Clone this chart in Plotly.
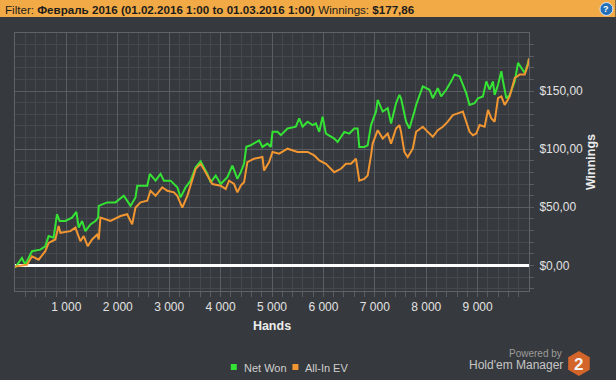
import plotly.graph_objects as go

# ---------------- data ----------------
hands_net = [0, 136, 200, 331, 493, 590, 655, 752, 818, 870, 980, 1110, 1195, 1240, 1306, 1370,
             1468, 1565, 1618, 1630, 1792, 1955, 2117, 2248, 2345, 2378, 2573, 2624, 2735, 2832,
             2897, 3027, 3158, 3222, 3320, 3417, 3515, 3612, 3743, 3807, 3905, 4002, 4132, 4230,
             4327, 4392, 4456, 4470, 4500, 4586, 4749, 4814, 4912, 4977, 5010, 5107, 5172, 5302,
             5464, 5529, 5595, 5692, 5790, 5854, 5919, 5984, 6049, 6211, 6276, 6406, 6503, 6601,
             6666, 6698, 6796, 6861, 6926, 7023, 7056, 7154, 7251, 7316, 7413, 7478, 7510, 7608,
             7673, 7770, 7803, 7933, 8062, 8128, 8225, 8290, 8388, 8485, 8550, 8648, 8713, 8778,
             8843, 8940, 9006, 9103, 9168, 9233, 9298, 9331, 9396, 9461, 9494, 9558, 9623, 9721,
             9786, 9851, 9916, 9981, 9999]
net_won = [-2, 6.4, 0.6, 12.2, 13.6, 16.5, 25.2, 23.8, 44, 38.2, 38.2, 41.1, 46, 32.5, 38.2, 29.5,
           35.3, 38.2, 41.1, 51.2, 54.2, 54.2, 59.9, 51.2, 58.5, 68.6, 68.6, 78.7, 72.9, 78.7,
           72.9, 72.9, 67.2, 58.5, 67.2, 72.9, 84.5, 89.5, 78.7, 71.5, 77.3, 70, 75.9, 85.9,
           74.4, 80.2, 87.4, 92, 102, 103.3, 107.6, 101.9, 104.8, 101.9, 114.9, 114.9, 112, 117.8,
           119.3, 126.5, 119.3, 123.6, 120.7, 122.1, 114.9, 128, 113.4, 109.1, 106.2, 114.9, 113.4, 117.8,
           117.8, 101.9, 101.9, 103.3, 120.7, 132.3, 142.4, 132.3, 135.2, 122.1, 139.5, 146.7, 143.8, 123.6,
           117.8, 132.3, 138, 154, 151.1, 143.8, 152.5, 145.3, 151.1, 158.3, 164.1, 162.7, 155.4, 148.2,
           138, 139.5, 143.8, 145.3, 158.3, 151.1, 158.3, 146.7, 155.4, 167, 158.3, 143.8, 146.7, 158.3,
           174.2, 169.9, 165.5, 174.2, 177.86]

hands_ev = [0, 233, 331, 461, 590, 655, 785, 850, 883, 1078, 1175, 1273, 1337, 1415, 1500, 1598,
            1630, 1663, 1858, 2053, 2183, 2280, 2345, 2443, 2573, 2637, 2735, 2865, 2963, 3092,
            3158, 3255, 3353, 3417, 3515, 3612, 3710, 3840, 4002, 4100, 4165, 4262, 4327, 4392,
            4456, 4521, 4651, 4814, 4846, 4944, 5010, 5140, 5302, 5497, 5692, 5822, 5919, 6049,
            6211, 6341, 6438, 6536, 6633, 6698, 6796, 6861, 6926, 6958, 7056, 7154, 7251, 7316,
            7413, 7478, 7510, 7575, 7640, 7738, 7803, 7933, 8030, 8128, 8225, 8323, 8420, 8518,
            8616, 8713, 8778, 8843, 8908, 8973, 9038, 9136, 9201, 9266, 9331, 9396, 9461, 9526,
            9623, 9721, 9818, 9916, 9981, 9999]
allin_ev = [-1, 0.6, 7.8, 4.9, 12.2, 19.4, 22.3, 33.9, 28.1, 29.5, 32.5, 20.8, 25.2, 16.5, 22.3, 26.6,
            22.3, 41.1, 38.2, 42.5, 44, 35.3, 49.8, 54.2, 55.6, 64.2, 59.9, 67.2, 64.2, 62.8,
            59.9, 49.8, 59.9, 68.6, 83, 87.4, 80.2, 70, 68.6, 65.7, 72.9, 70, 62.8, 68.6,
            71.5, 88.9, 91.8, 93.2, 81.6, 88.9, 97.6, 96.1, 100.4, 97.6, 97.6, 94.6, 90.3, 87.4,
            80.2, 83.1, 87.4, 87.4, 91.8, 72.9, 74.4, 77.3, 94.6, 104.8, 116.3, 109.1, 113.4, 104.8,
            117.8, 120.7, 114.9, 97.6, 93.2, 100.4, 114.9, 119.3, 114.9, 110.6, 116.3, 119.3, 123.6, 129.3,
            130.8, 132.3, 123.6, 114.9, 112, 113.4, 120.7, 119.3, 133.7, 126.5, 123.6, 143.8, 145.3, 138,
            145.3, 161.2, 164.1, 164.1, 172.8, 178]

series_names = ["Net Won", "All-In EV"]
filter_name = "Февраль 2016 (01.02.2016 1:00 to 01.03.2016 1:00)"
total_winnings = "$177,86"

# ---------------- layout helpers ----------------
W, H = 616, 380
PL, PR, PT, PB = 15, 529.5, 33, 291


def px(x):
    return (x - PL) / (PR - PL)


def py(y):
    return (PB - y) / (PB - PT)


GREEN = "#35e335"
ORANGE = "#f29632"
BG = "#36393d"

fig = go.Figure()
fig.add_trace(go.Scatter(x=hands_net, y=net_won, mode="lines", name=series_names[0],
                         line=dict(color=GREEN, width=2), showlegend=False))
fig.add_trace(go.Scatter(x=hands_ev, y=allin_ev, mode="lines", name=series_names[1],
                         line=dict(color=ORANGE, width=2), showlegend=False))

grid_minor = "#45494d"
grid_major = "#5a5e62"

fig.update_layout(
    width=W, height=H,
    margin=dict(l=PL, r=W - PR, t=PT, b=H - PB, pad=0, autoexpand=False),
    paper_bgcolor=BG, plot_bgcolor=BG,
    separators=", ",
    font=dict(family="Liberation Sans, Arial, sans-serif", size=12, color="#e2e2e2"),
    showlegend=False,
    xaxis=dict(
        range=[1, 9999], tickmode="linear", tick0=0, dtick=1000, tickformat=",d",
        automargin=False,
        showgrid=True, gridcolor=grid_major, gridwidth=1,
        ticks="outside", ticklen=5, tickcolor=grid_major,
        minor=dict(tickmode="linear", tick0=0, dtick=200, showgrid=True, gridcolor=grid_minor,
                   ticks="outside", ticklen=5, tickcolor=grid_major),
        showline=True, linecolor="#5f6367", linewidth=1, mirror=True, zeroline=False,
        tickfont=dict(size=12, color="#e2e2e2"),
        title=dict(text="<b>Hands</b>", font=dict(size=12.5, color="#ececec"), standoff=7),
    ),
    yaxis=dict(
        range=[-22, 199.9], side="right", tickmode="linear", tick0=0, dtick=50,
        tickformat=",.2f", tickprefix="$",
        automargin=False, ticklabelstandoff=3,
        showgrid=True, gridcolor=grid_major, gridwidth=1,
        ticks="outside", ticklen=4, tickcolor=grid_major,
        minor=dict(tickmode="linear", tick0=0, dtick=10, showgrid=True, gridcolor=grid_minor,
                   ticks="outside", ticklen=4, tickcolor=grid_major),
        showline=True, linecolor="#5f6367", linewidth=1, mirror=True,
        zeroline=True, zerolinecolor="#ffffff", zerolinewidth=2.5,
        tickfont=dict(size=12, color="#e2e2e2"),
        title=dict(text="<b>Winnings</b>", font=dict(size=12.5, color="#ececec"), standoff=4),
    ),
)

shapes = []
annotations = []

# header bar
shapes.append(dict(type="rect", xref="paper", yref="paper", x0=px(0), x1=px(W), y0=py(17), y1=py(0),
                   fillcolor="#f1aa45", line=dict(width=0), layer="above"))
annotations.append(dict(xref="paper", yref="paper", x=px(3), y=py(9), xanchor="left", yanchor="middle",
                        showarrow=False,
                        text=f"Filter: <b>{filter_name}</b> Winnings: <b>{total_winnings}</b>",
                        font=dict(family="Liberation Sans, Arial, sans-serif", size=11.6, color="#1c1c1c")))
# help icon
shapes.append(dict(type="circle", xref="paper", yref="paper", x0=px(600.5), x1=px(613.5), y0=py(15.5), y1=py(2.5),
                   fillcolor="#2470b8", line=dict(color="#dfe8f2", width=1), layer="above"))
annotations.append(dict(xref="paper", yref="paper", x=px(607), y=py(9), xanchor="center", yanchor="middle",
                        showarrow=False, text="<b>?</b>", font=dict(size=9, color="#ffffff")))

# legend
for cx, col in [(234, GREEN), (295.7, ORANGE)]:
    shapes.append(dict(type="rect", xref="paper", yref="paper", x0=px(cx - 3), x1=px(cx + 3),
                       y0=py(370), y1=py(364), fillcolor=col, line=dict(width=0)))
annotations.append(dict(xref="paper", yref="paper", x=px(242), y=py(367.5), xanchor="left", yanchor="middle",
                        showarrow=False, text=series_names[0], font=dict(size=11, color="#cfcfcf")))
annotations.append(dict(xref="paper", yref="paper", x=px(303.5), y=py(367.5), xanchor="left", yanchor="middle",
                        showarrow=False, text=series_names[1], font=dict(size=11, color="#cfcfcf")))

# powered by logo
annotations.append(dict(xref="paper", yref="paper", x=px(565), y=py(353), xanchor="right", yanchor="middle",
                        showarrow=False, text="Powered by", font=dict(size=10, color="#9c9c9c")))
annotations.append(dict(xref="paper", yref="paper", x=px(566), y=py(364.5), xanchor="right", yanchor="middle",
                        showarrow=False, text="Hold'em Manager", font=dict(size=12, color="#c6c6c6")))
hcx, hcy, hr, hw = 579.5, 363.5, 12.5, 10.8
verts = [(hcx, hcy - hr), (hcx + hw, hcy - hr / 2), (hcx + hw, hcy + hr / 2),
         (hcx, hcy + hr), (hcx - hw, hcy + hr / 2), (hcx - hw, hcy - hr / 2)]
path = "M " + " L ".join(f"{px(a):.5f},{py(b):.5f}" for a, b in verts) + " Z"
shapes.append(dict(type="path", xref="paper", yref="paper", path=path,
                   fillcolor="#d3652a", line=dict(width=0)))
annotations.append(dict(xref="paper", yref="paper", x=px(579.5), y=py(364), xanchor="center", yanchor="middle",
                        showarrow=False, text="<b>2</b>", font=dict(size=17, color="#f4f4f4")))

fig.update_layout(shapes=shapes, annotations=annotations)

fig.write_html(
    "out.html",
    config={"displayModeBar": False},
    post_script=("document.body.style.margin='0';document.body.style.padding='0';"
                 "document.body.style.overflow='hidden';"
                 "document.documentElement.style.overflow='hidden';"),
)
